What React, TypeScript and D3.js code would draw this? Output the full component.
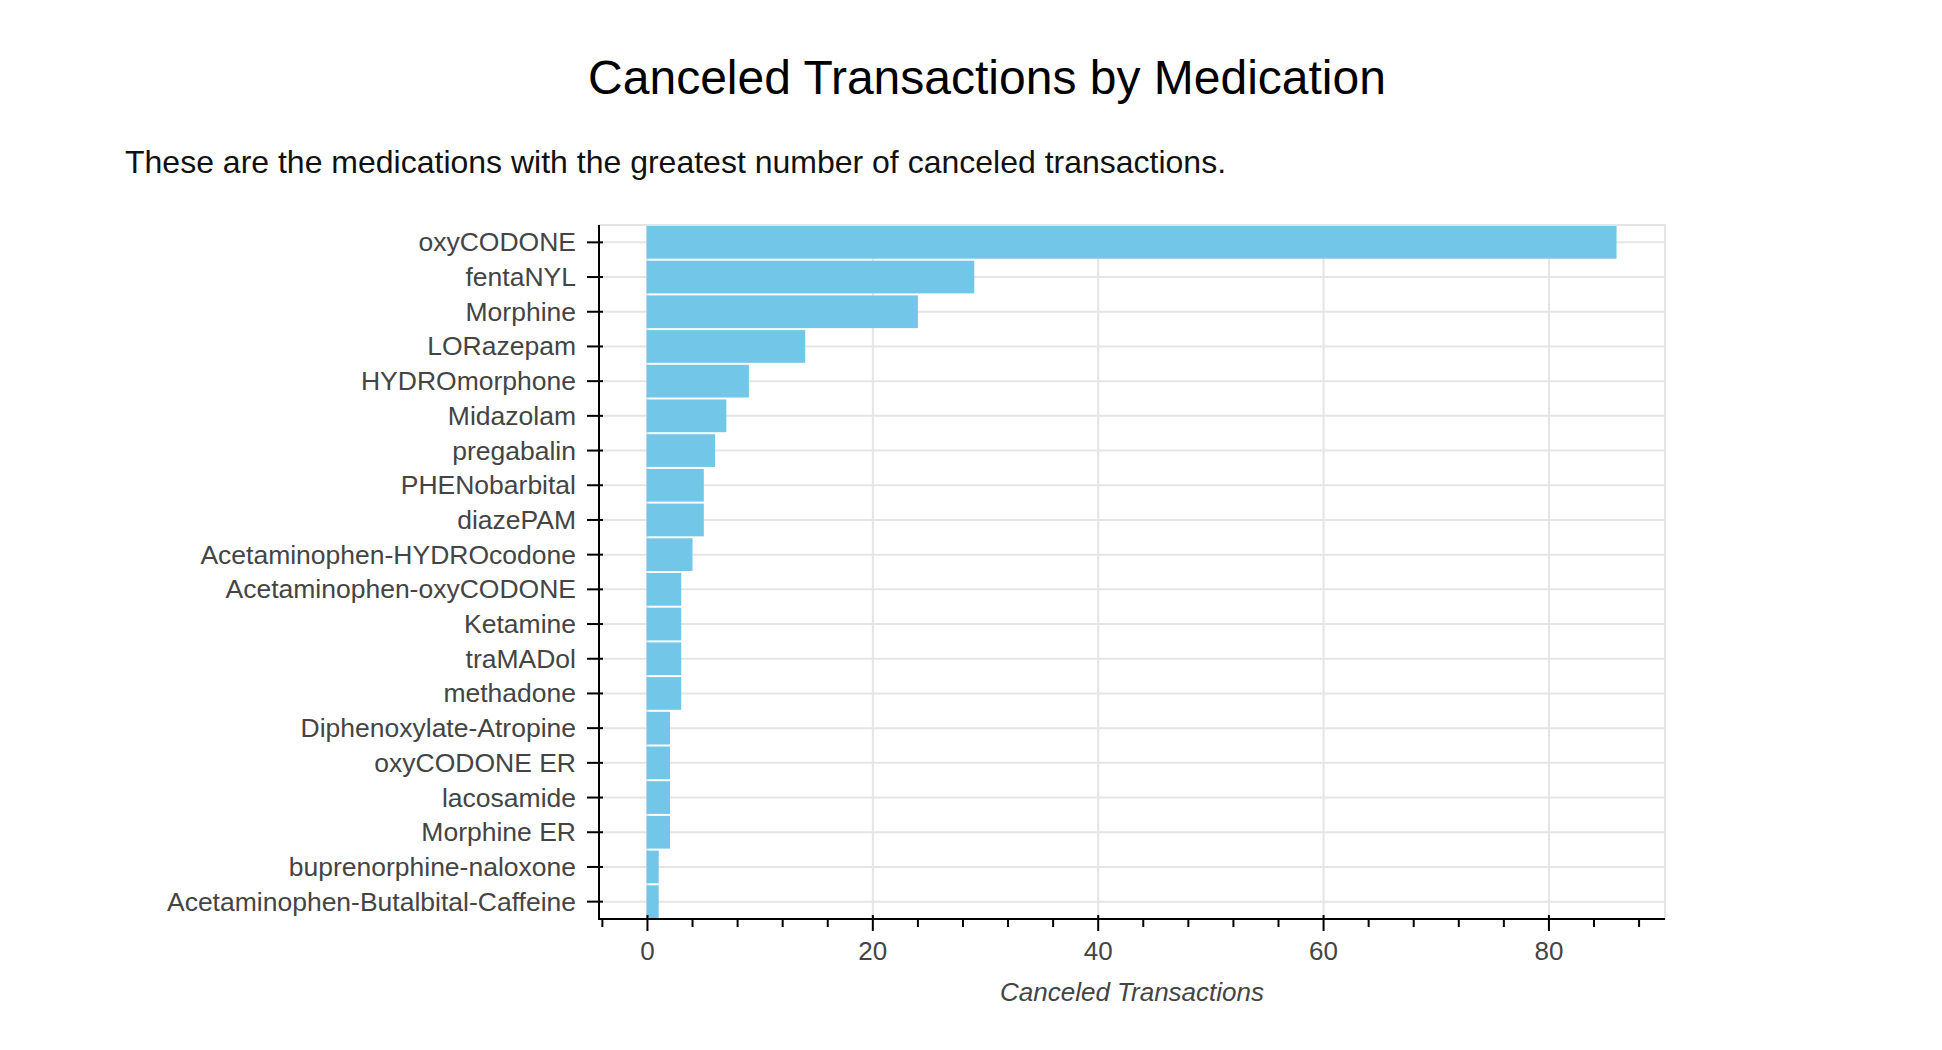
import React from 'react';
import * as d3 from 'd3';

const medications = [
  'oxyCODONE',
  'fentaNYL',
  'Morphine',
  'LORazepam',
  'HYDROmorphone',
  'Midazolam',
  'pregabalin',
  'PHENobarbital',
  'diazePAM',
  'Acetaminophen-HYDROcodone',
  'Acetaminophen-oxyCODONE',
  'Ketamine',
  'traMADol',
  'methadone',
  'Diphenoxylate-Atropine',
  'oxyCODONE ER',
  'lacosamide',
  'Morphine ER',
  'buprenorphine-naloxone',
  'Acetaminophen-Butalbital-Caffeine',
];

const canceledCounts = [86, 29, 24, 14, 9, 7, 6, 5, 5, 4, 3, 3, 3, 3, 2, 2, 2, 2, 1, 1];

const titleText = 'Canceled Transactions by Medication';
const subtitleText = 'These are the medications with the greatest number of canceled transactions.';
const xAxisLabel = 'Canceled Transactions';

const W = 1942;
const H = 1050;
const FONT = '"Liberation Sans", Helvetica, Arial, sans-serif';

export default function App() {
  // plot frame
  const left = 599;
  const right = 1665;
  const top = 225;
  const bottom = 919;

  // bokeh-like data range: 10% padding around [0, max]
  const maxV = d3.max(canceledCounts) as number;
  const pad = (maxV - 0) * 0.05;
  const x = d3.scaleLinear().domain([0 - pad, maxV + pad]).range([left, right]);
  const y = d3.scaleBand<string>().domain(medications).range([top, bottom]).padding(0);

  const majorTicks = x.ticks(5);
  const step = majorTicks[1] - majorTicks[0];
  const minorStep = step / 5;
  const [d0, d1] = x.domain();
  const minorTicks = d3
    .range(Math.ceil(d0 / minorStep) * minorStep, d1, minorStep)
    .filter(t => !majorTicks.some(m => Math.abs(m - t) < 1e-9));

  const grid = '#e5e5e5';
  const labelColor = '#444444';
  const barColor = '#72c6e8';

  return (
    <svg
      width={W}
      height={H}
      style={{ position: 'absolute', left: 0, top: 0, background: '#fff' }}
      fontFamily={FONT}
    >
      <text x={987} y={94} textAnchor="middle" fontSize={48} fill="#000">
        {titleText}
      </text>
      <text x={125} y={173} fontSize={32} fill="#111">
        {subtitleText}
      </text>

      {/* grid */}
      <g stroke={grid} strokeWidth={2}>
        {majorTicks.map(t => (
          <line key={'gx' + t} x1={x(t)} x2={x(t)} y1={top} y2={bottom} />
        ))}
        {medications.map(m => (
          <line
            key={'gy' + m}
            x1={left}
            x2={right}
            y1={(y(m) as number) + y.bandwidth() / 2}
            y2={(y(m) as number) + y.bandwidth() / 2}
          />
        ))}
      </g>
      {/* outline */}
      <rect x={left} y={top} width={right - left} height={bottom - top} fill="none" stroke={grid} strokeWidth={2} />

      {/* bars */}
      <g>
        {medications.map((m, i) => (
          <rect
            key={m}
            x={x(0) - 1}
            y={(y(m) as number) + 1}
            width={x(canceledCounts[i]) - x(0) + 1}
            height={y.bandwidth() - 2}
            fill={barColor}
          />
        ))}
      </g>

      {/* y axis */}
      <g>
        <line x1={left} x2={left} y1={top} y2={bottom + 1} stroke="#000" strokeWidth={2} />
        {medications.map(m => {
          const cy = (y(m) as number) + y.bandwidth() / 2;
          return (
            <g key={'yt' + m}>
              <line x1={left - 12} x2={left + 4} y1={cy} y2={cy} stroke="#000" strokeWidth={2} />
              <text
                x={576}
                y={cy}
                textAnchor="end"
                dominantBaseline="central"
                fontSize={26.5}
                fill={labelColor}
              >
                {m}
              </text>
            </g>
          );
        })}
      </g>

      {/* x axis */}
      <g>
        <line x1={left - 1} x2={right} y1={bottom} y2={bottom} stroke="#000" strokeWidth={2} />
        {minorTicks.map(t => (
          <line key={'mt' + t} x1={x(t)} x2={x(t)} y1={bottom} y2={bottom + 8} stroke="#000" strokeWidth={2} />
        ))}
        {majorTicks.map(t => (
          <g key={'xt' + t}>
            <line x1={x(t)} x2={x(t)} y1={bottom - 4} y2={bottom + 12} stroke="#000" strokeWidth={2} />
            <text x={x(t)} y={960} textAnchor="middle" fontSize={26} fill={labelColor}>
              {t}
            </text>
          </g>
        ))}
        <text
          x={(left + right) / 2}
          y={1001}
          textAnchor="middle"
          fontSize={26}
          fontStyle="italic"
          fill={labelColor}
        >
          {xAxisLabel}
        </text>
      </g>
    </svg>
  );
}
